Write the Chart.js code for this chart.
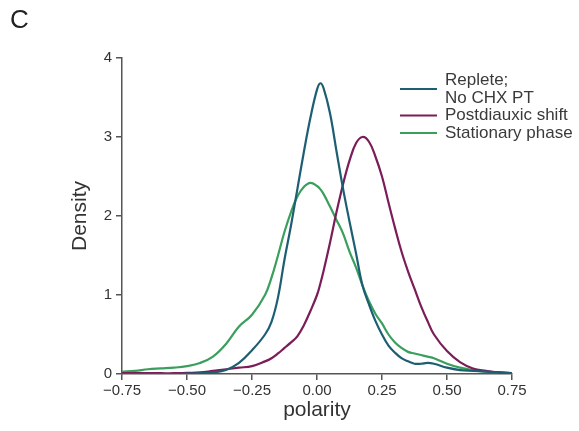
<!DOCTYPE html>
<html>
<head>
<meta charset="utf-8">
<script src="https://cdn.jsdelivr.net/npm/chart.js@4"></script>
<style>
  html, body { margin: 0; padding: 0; background: #fff; }
  #wrap { position: relative; width: 579px; height: 431px; }
</style>
</head>
<body>
<div id="wrap"><canvas id="myChart" width="579" height="431"></canvas></div>
<script>
const polarity = [-0.75, -0.70, -0.65, -0.60, -0.55, -0.50, -0.45, -0.40, -0.35, -0.30, -0.25, -0.20, -0.175, -0.15, -0.125, -0.10, -0.075, -0.05, -0.025, 0, 0.0125, 0.025, 0.05, 0.075, 0.10, 0.125, 0.15, 0.175, 0.20, 0.225, 0.25, 0.275, 0.30, 0.325, 0.35, 0.375, 0.40, 0.425, 0.45, 0.50, 0.55, 0.60, 0.65, 0.70, 0.75];

const replete = [0.0, 0.0, 0.0, 0.0, 0.0, 0.005, 0.01, 0.02, 0.05, 0.14, 0.30, 0.50, 0.66, 0.97, 1.45, 1.88, 2.35, 2.82, 3.25, 3.60, 3.68, 3.62, 3.30, 2.82, 2.35, 1.93, 1.53, 1.12, 0.88, 0.67, 0.50, 0.36, 0.27, 0.20, 0.16, 0.13, 0.13, 0.14, 0.13, 0.08, 0.05, 0.04, 0.03, 0.02, 0.01];
const postdiauxic = [0.01, 0.01, 0.01, 0.01, 0.01, 0.015, 0.02, 0.04, 0.06, 0.08, 0.10, 0.16, 0.20, 0.26, 0.33, 0.40, 0.48, 0.62, 0.80, 1.00, 1.14, 1.30, 1.66, 2.05, 2.40, 2.70, 2.92, 3.00, 2.94, 2.75, 2.50, 2.17, 1.85, 1.55, 1.30, 1.08, 0.86, 0.67, 0.50, 0.29, 0.15, 0.07, 0.04, 0.02, 0.01];
const stationary = [0.03, 0.04, 0.06, 0.07, 0.08, 0.10, 0.14, 0.22, 0.38, 0.60, 0.75, 1.00, 1.22, 1.50, 1.80, 2.05, 2.25, 2.37, 2.42, 2.38, 2.34, 2.28, 2.12, 1.95, 1.78, 1.55, 1.35, 1.12, 0.92, 0.76, 0.64, 0.50, 0.40, 0.33, 0.28, 0.26, 0.24, 0.22, 0.20, 0.13, 0.08, 0.05, 0.03, 0.02, 0.01];

const seriesNames = [["Replete;", "No CHX PT"], ["Postdiauxic shift"], ["Stationary phase"]];
const seriesColors = ["#1d5e73", "#7a1d58", "#3a9f5c"];
const xTicks = [-0.75, -0.50, -0.25, 0, 0.25, 0.50, 0.75];
const yTicks = [0, 1, 2, 3, 4];

const FONT = "'Liberation Sans', Arial, sans-serif";
const toPts = (ys) => ys.map((y, i) => ({ x: polarity[i], y: y }));
const fmt = (v) => (v < 0 ? "\u2212" : "") + Math.abs(v).toFixed(2);

// panel letter, axis titles and legend drawn on the canvas
const decor = {
    id: "decor",
    afterDraw(chart) {
        const ctx = chart.ctx;
        const area = chart.chartArea;
        ctx.save();
        ctx.fillStyle = "#222";
        ctx.font = "26px " + FONT;
        ctx.textBaseline = "middle";
        ctx.textAlign = "left";
        ctx.fillText("C", 10, 21);

        ctx.fillStyle = "#333";
        ctx.font = "21px " + FONT;
        ctx.textAlign = "center";
        ctx.fillText("polarity", (area.left + area.right) / 2, 410);
        ctx.translate(80, 216);
        ctx.rotate(-Math.PI / 2);
        ctx.fillText("Density", 0, 0);
        ctx.restore();

        ctx.save();
        ctx.font = "17px " + FONT;
        ctx.textBaseline = "middle";
        ctx.fillStyle = "#3a3a3a";
        const lh = 18;
        let y = 80;
        seriesNames.forEach((lines, i) => {
            const mid = y + (lines.length - 1) * lh / 2;
            ctx.strokeStyle = seriesColors[i];
            ctx.lineWidth = 2.2;
            ctx.beginPath();
            ctx.moveTo(400, mid);
            ctx.lineTo(437, mid);
            ctx.stroke();
            lines.forEach((t, j) => ctx.fillText(t, 445, y + j * lh));
            y += lines.length * lh - 0.5;
        });
        ctx.restore();
    },
};

const config = {
    type: "line",
    data: {
        datasets: [replete, postdiauxic, stationary].map((d, i) => ({
            label: seriesNames[i].join(" "),
            data: toPts(d),
            borderColor: seriesColors[i],
            backgroundColor: seriesColors[i],
            borderWidth: 2.2,
            pointRadius: 0,
            tension: 0.4,
            fill: false,
        })),
    },
    options: {
        responsive: false,
        animation: false,
        layout: { padding: { top: 58, right: 67, left: 0, bottom: 0 } },
        plugins: { legend: { display: false }, tooltip: { enabled: false } },
        scales: {
            x: {
                type: "linear",
                min: -0.75,
                max: 0.75,
                afterBuildTicks: (s) => { s.ticks = xTicks.map((v) => ({ value: v })); },
                afterFit: (s) => { s.height = 57; },
                ticks: {
                    callback: (v) => fmt(v),
                    color: "#333",
                    font: { family: FONT, size: 15 },
                    padding: 2,
                    maxRotation: 0,
                },
                grid: { drawOnChartArea: false, tickLength: 6, color: "#555", lineWidth: 1.5 },
                border: { color: "#555", width: 1.5 },
            },
            y: {
                type: "linear",
                min: 0,
                max: 4,
                afterBuildTicks: (s) => { s.ticks = yTicks.map((v) => ({ value: v })); },
                afterFit: (s) => { s.width = 122; },
                ticks: {
                    color: "#333",
                    font: { family: FONT, size: 15 },
                    padding: 4,
                },
                grid: { drawOnChartArea: false, tickLength: 6, color: "#555", lineWidth: 1.5 },
                border: { color: "#555", width: 1.5 },
            },
        },
    },
    plugins: [decor],
};

new Chart(document.getElementById("myChart"), config);
</script>
</body>
</html>
